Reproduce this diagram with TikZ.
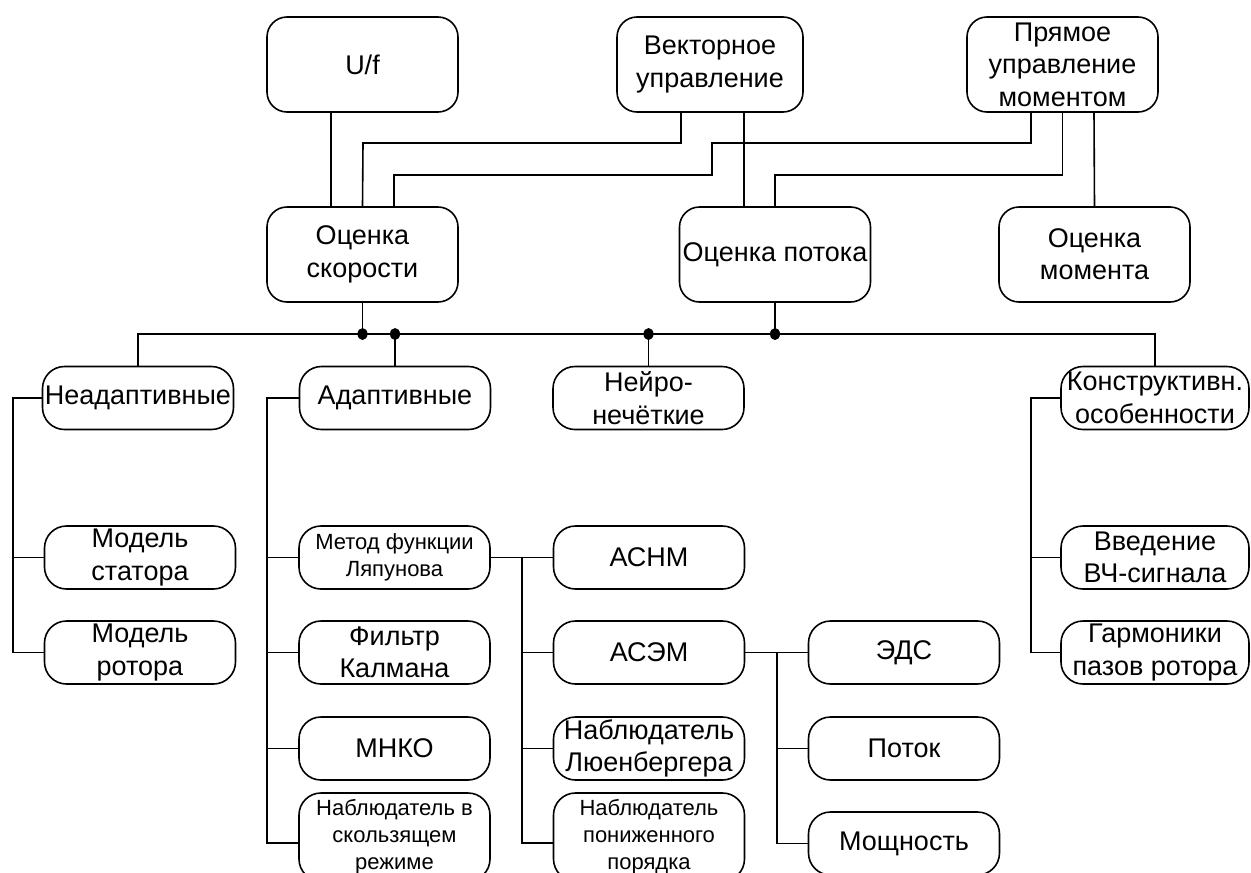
\documentclass[tikz,border=0pt]{standalone}
\usepackage{fontspec}
\setmainfont{Liberation Sans}
\usetikzlibrary{shapes.geometric}
\begin{document}
\begin{tikzpicture}[x=1pt,y=-1pt, line width=1.6pt,
  box/.style={draw, rounded corners=20pt, minimum width=191pt, minimum height=95pt, inner sep=0pt, align=center, font=\fontsize{27}{32.4}\selectfont},
  sbox/.style={box, minimum height=63pt, rounded corners=22pt},
  small/.style={font=\fontsize{22}{27}\selectfont},
  dot/.style={fill, ellipse, inner sep=0pt, minimum width=10pt, minimum height=12pt}]
\clip (0,0) rectangle (1251,873);
\fill[white] (0,0) rectangle (1251,873);
% top row
\node[box] (uf) at (362.5,64.5) {U/f};
\node[box, minimum width=186pt] (vec) at (710,64.5) {Векторное\\управление};
\node[box] (pr) at (1062.5,64.5) {Прямое\\управление\\моментом};
% estimation row
\node[box] (os) at (362.5,254.5) {Оценка\\скорости};
\node[box] (op) at (775,254.5) {Оценка потока};
\node[box] (om) at (1094.5,254.5) {Оценка\\момента};
% method groups
\node[sbox] (nead) at (138,398) {Неадаптивные};
\node[sbox] (adap) at (395,398) {Адаптивные};
\node[sbox] (neuro) at (648.5,398) {Нейро-\\нечёткие};
\node[sbox, minimum width=188pt] (konstr) at (1155,398) {Конструктивн.\\особенности};
% leaves
\node[sbox] (ms) at (140,557.5) {Модель\\статора};
\node[sbox] (mr) at (140,652.5) {Модель\\ротора};
\node[sbox, small] (lyap) at (394.5,557.5) {Метод функции\\Ляпунова};
\node[sbox] (kalman) at (394.5,652.5) {Фильтр\\Калмана};
\node[sbox] (mnko) at (394.5,748.5) {МНКО};
\node[sbox, small, minimum height=88pt] (slide) at (394.5,837) {Наблюдатель в\\скользящем\\режиме};
\node[sbox] (asnm) at (649,557.5) {АСНМ};
\node[sbox] (asem) at (649,652.5) {АСЭМ};
\node[sbox] (luen) at (649,748.5) {Наблюдатель\\Люенбергера};
\node[sbox, small, minimum height=88pt] (reduced) at (649,837) {Наблюдатель\\пониженного\\порядка};
\node[sbox] (eds) at (904,652.5) {ЭДС};
\node[sbox] (potok) at (904,748.5) {Поток};
\node[sbox] (power) at (904,843.5) {Мощность};
\node[sbox, minimum width=188pt] (vvod) at (1155,557.5) {Введение\\ВЧ-сигнала};
\node[sbox, minimum width=188pt] (garm) at (1155,652.5) {Гармоники\\пазов ротора};
% top connectors
\draw ([xshift=-31.5pt]uf.south) -- ([xshift=-31.5pt]os.north);
\draw ([xshift=-29pt]vec.south) |- (363,143) -- (os.north);
\draw ([xshift=34pt]vec.south) -- ([xshift=-31pt]op.north);
\draw ([xshift=-31.5pt]pr.south) |- (712,143) |- (394,175) -- ([xshift=31.5pt]os.north);
\draw (pr.south) |- (775,175) -- (op.north);
\draw ([xshift=31.5pt]pr.south) -- (om.north);
% bus
\coordinate (busy) at (0,334);
\draw (nead.north) |- (konstr.north |- busy) -- (konstr.north);
\draw (os.south) -- (os.south |- busy);
\draw (adap.north) -- (adap.north |- busy);
\draw (neuro.north) -- (neuro.north |- busy);
\draw (op.south) -- (op.south |- busy);
\node[dot] (d1) at (os.south |- busy) {};
\node[dot] (d2) at (adap.north |- busy) {};
\node[dot] (d3) at (neuro.north |- busy) {};
\node[dot] (d4) at (op.south |- busy) {};
% spines
\coordinate (ls) at (13,0);
\coordinate (as) at (267,0);
\coordinate (s2) at (522,0);
\coordinate (s3) at (777,0);
\coordinate (s4) at (1031,0);
\draw (nead.west) -- (nead.west -| ls) |- (mr.west);
\draw (ms.west) -- (ms.west -| ls);
\draw (adap.west) -- (adap.west -| as) |- ([yshift=-6pt]slide.west);
\draw (lyap.west) -- (lyap.west -| as);
\draw (kalman.west) -- (kalman.west -| as);
\draw (mnko.west) -- (mnko.west -| as);
\draw (lyap.east) -- (asnm.west);
\draw (asnm.west -| s2) |- ([yshift=-6pt]reduced.west);
\draw (asem.west) -- (asem.west -| s2);
\draw (luen.west) -- (luen.west -| s2);
\draw (asem.east) -- (eds.west);
\draw (eds.west -| s3) |- (power.west);
\draw (potok.west) -- (potok.west -| s3);
\draw (konstr.west) -- (konstr.west -| s4) |- (garm.west);
\draw (vvod.west) -- (vvod.west -| s4);
\end{tikzpicture}
\end{document}
